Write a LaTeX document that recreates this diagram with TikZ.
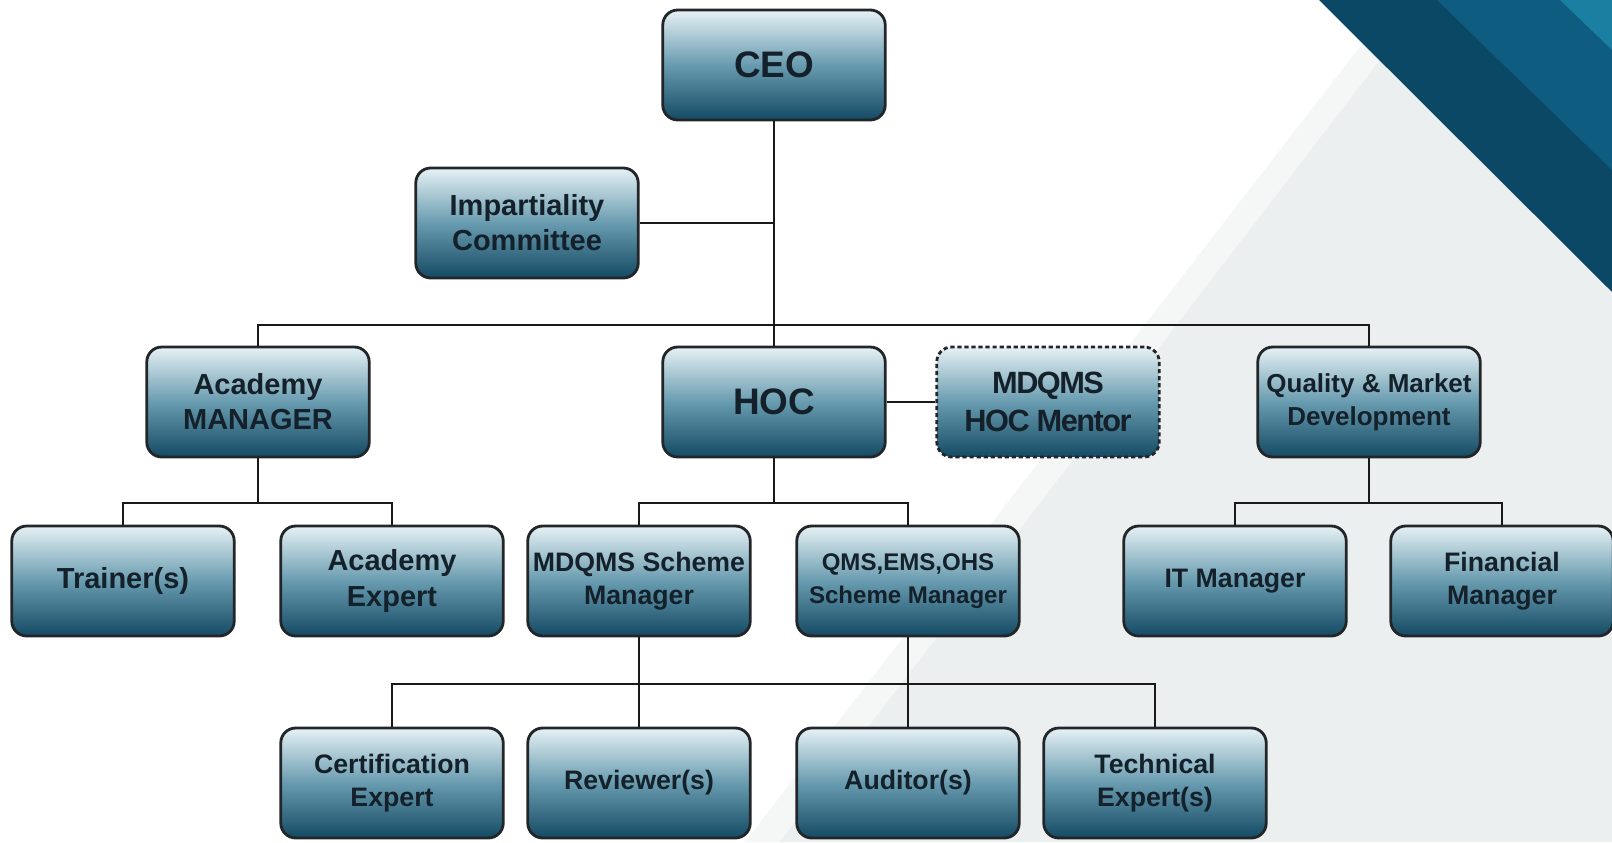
\documentclass[tikz,border=0pt]{standalone}
\usepackage{fontspec}
\setmainfont{Liberation Sans}

\definecolor{boxtop}{RGB}{230,241,245}
\definecolor{boxmid}{RGB}{104,155,175}
\definecolor{boxbot}{RGB}{20,74,100}
\definecolor{boxline}{RGB}{34,38,40}
\definecolor{boxtext}{RGB}{20,33,43}
\definecolor{bggray}{RGB}{236,239,240}
\definecolor{bgsoft}{RGB}{245,247,247}
\definecolor{bandA}{RGB}{11,72,102}
\definecolor{bandB}{RGB}{14,92,128}
\definecolor{bandC}{RGB}{26,127,160}

\tikzset{
  post/.style={rectangle, rounded corners=8.5pt, draw=boxline, line width=1.6pt,
    top color=boxtop, bottom color=boxbot, middle color=boxmid,
    minimum width=4.45cm, minimum height=2.2cm, align=center, text=boxtext,
    inner sep=1pt, font=\bfseries\fontsize{16.5}{20}\selectfont},
  bigpost/.style={post, font=\bfseries\fontsize{21}{24}\selectfont},
  smallpost/.style={post, font=\bfseries\fontsize{15.2}{19}\selectfont},
  link/.style={draw=black!90, line width=1.6pt},
}

\begin{document}
\begin{tikzpicture}[x=0.02cm, y=-0.02cm]

    % page and background
    \useasboundingbox (0,0) rectangle (1612,842);
    \fill[white] (0,0) rectangle (1612,842);
    \fill[bgsoft] (1396,0) -- (1612,0) -- (1612,842) -- (745,842) -- cycle;
    \fill[bggray] (1426,0) -- (1612,0) -- (1612,842) -- (780,842) -- cycle;

    % corner banner
    \fill[bandA] (1319,0) -- (1612,0) -- (1612,292) -- cycle;
    \fill[bandB] (1437,0) -- (1612,0) -- (1612,170) -- cycle;
    \fill[bandC] (1560,0) -- (1612,0) -- (1612,50) -- cycle;

    % top levels
    \node[bigpost] (ceo) at (774,65) {CEO};
    \node[post] (imp) at (527,223) {Impartiality\\Committee};
    \node[post] (acad) at (258,402) {Academy\\MANAGER};
    \node[bigpost] (hoc) at (774,402) {HOC};
    \node[post, dash pattern=on 2.4pt off 1.6pt,
          font=\bfseries\fontsize{17.5}{22}\selectfont\addfontfeatures{LetterSpace=-5}]
          (mentor) at (1048,402) {MDQMS\\HOC Mentor};
    \node[smallpost, font=\bfseries\fontsize{14.8}{19}\selectfont] (qual) at (1369,402) {Quality \& Market\\Development};

    % third row
    \node[post] (trainer) at (123,581) {Trainer(s)};
    \node[post] (acexp) at (392,581) {Academy\\Expert};
    \node[smallpost] (mdsm) at (639,581) {MDQMS Scheme\\Manager};
    \node[smallpost, font=\bfseries\fontsize{13.7}{19}\selectfont] (qmssm) at (908,581) {QMS,EMS,OHS\\Scheme Manager};
    \node[smallpost] (itm) at (1235,581) {IT Manager};
    \node[smallpost] (fin) at (1502,581) {Financial\\Manager};

    % bottom row
    \node[smallpost] (cert) at (392,783) {Certification\\Expert};
    \node[smallpost] (rev) at (639,783) {Reviewer(s)};
    \node[smallpost] (aud) at (908,783) {Auditor(s)};
    \node[smallpost] (tech) at (1155,783) {Technical\\Expert(s)};

    % bar heights
    \coordinate (bar1) at (774,325);
    \coordinate (bar2) at (774,503);
    \coordinate (bar3) at (774,684);

    % connectors
    \draw[link] (ceo) -- (hoc);
    \draw[link] (imp.east) -- (imp.east -| ceo.south);
    \draw[link] (acad.north) |- (bar1) -| (qual.north);
    \draw[link] (hoc.east) -- (mentor.west);

    \draw[link] (acad.south) -- (acad |- bar2);
    \draw[link] (trainer.north) |- (acad |- bar2) -| (acexp.north);
    \draw[link] (hoc.south) -- (bar2);
    \draw[link] (mdsm.north) |- (bar2) -| (qmssm.north);
    \draw[link] (qual.south) -- (qual |- bar2);
    \draw[link] (itm.north) |- (qual |- bar2) -| (fin.north);

    \draw[link] (mdsm.south) -- (rev.north);
    \draw[link] (qmssm.south) -- (aud.north);
    \draw[link] (cert.north) |- (bar3) -| (tech.north);

\end{tikzpicture}
\end{document}
